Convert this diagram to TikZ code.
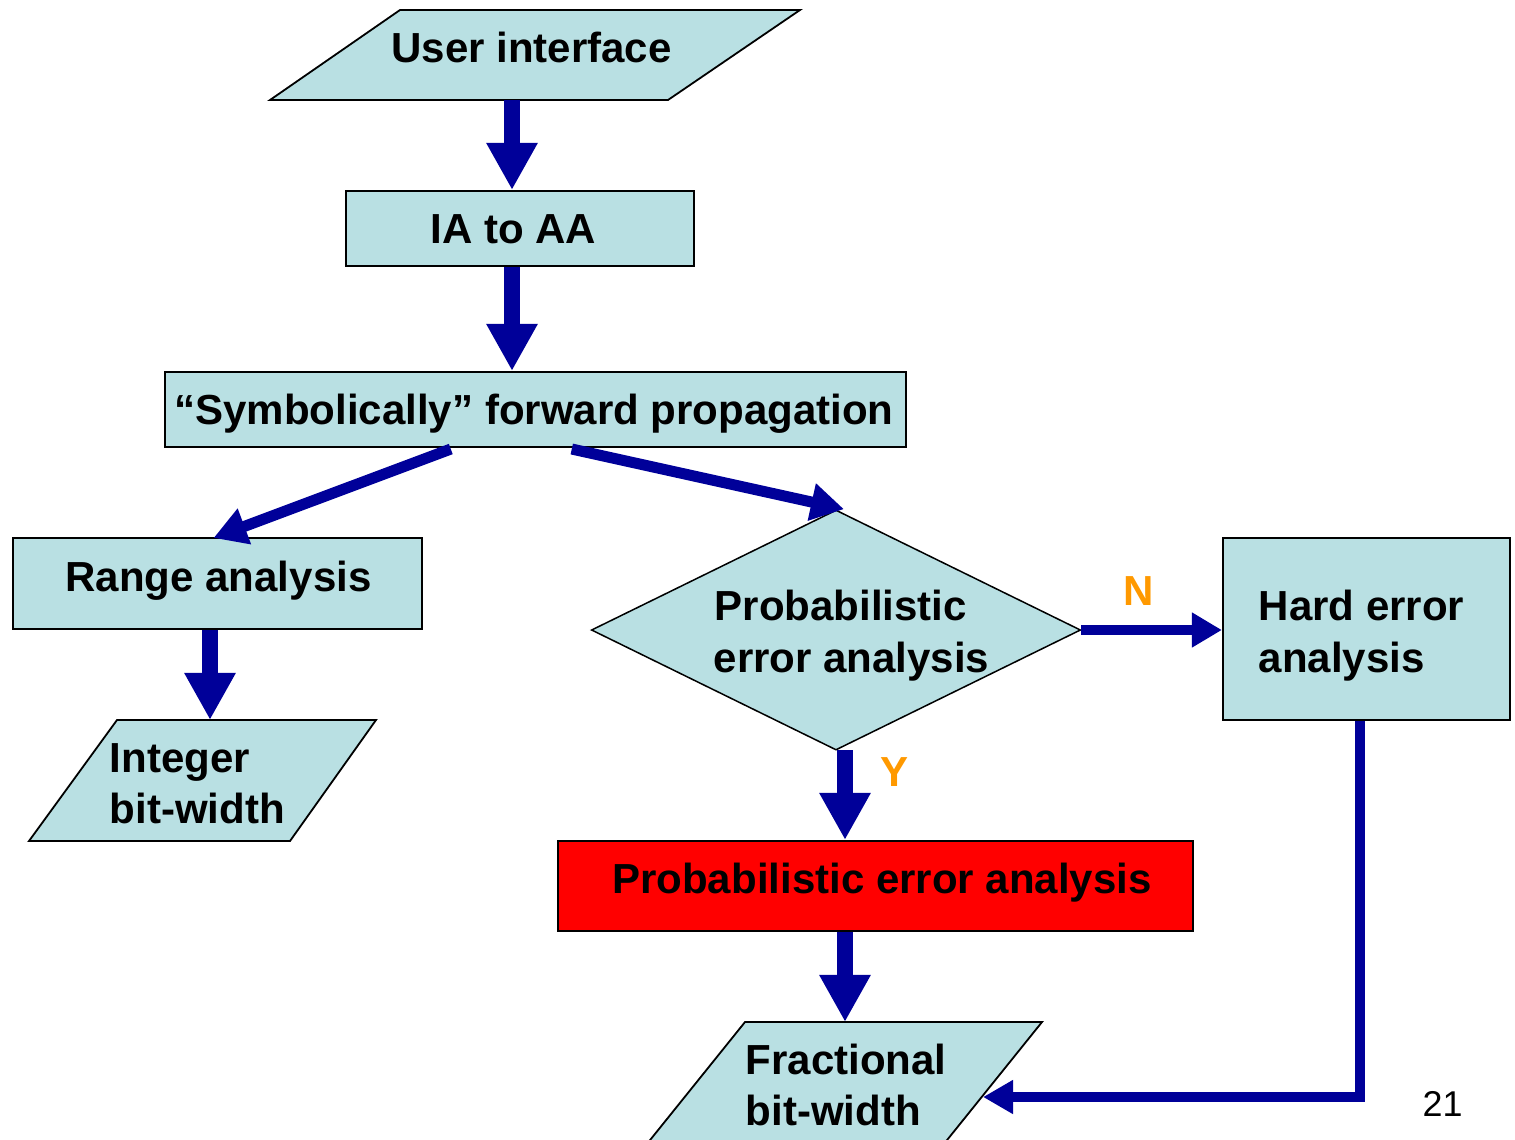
\documentclass[tikz,border=0pt]{standalone}
\usepackage{fontspec}
\setmainfont{Liberation Sans}
\usetikzlibrary{arrows.meta,shapes.geometric,calc}
\definecolor{boxfill}{RGB}{185,224,227}
\definecolor{arrowblue}{RGB}{0,0,153}
\definecolor{labelorange}{RGB}{255,153,0}
\begin{document}
\begin{tikzpicture}[x=0.01cm,y=-0.01cm,
  box/.style={shape=rectangle,draw=black,line width=0.02cm,fill=boxfill,inner sep=0pt},
  para/.style={draw=black,line width=0.018cm,fill=boxfill,line join=miter},
  txt/.style={font=\fontsize{11.95pt}{14pt}\selectfont\bfseries,inner sep=0pt},
  bigarrow/.style={draw=arrowblue,line width=0.16cm,-{Triangle[length=0.47cm,width=0.48cm]},arrowblue},
  thinarrow/.style={draw=arrowblue,line width=0.11cm,-{Triangle[length=0.33cm,width=0.36cm]},arrowblue},
  midarrow/.style={draw=arrowblue,line width=0.10cm,-{Triangle[length=0.30cm,width=0.33cm]},arrowblue},
  returnline/.style={draw=arrowblue,line width=0.10cm,line join=miter,-{Triangle[length=0.30cm,width=0.32cm]},arrowblue}]
\useasboundingbox (0,0) rectangle (1515,1139);
\clip (0,0) rectangle (1515,1139);

% shapes
\draw[para] (400,10) -- (800,10) -- (668,100) -- (270,100) -- cycle;
\node[box,minimum width=3.48cm,minimum height=0.75cm] (ia) at (520,228.5) {};
\node[box,minimum width=7.41cm,minimum height=0.75cm] (sym) at (535.5,409.5) {};
\node[box,minimum width=4.09cm,minimum height=0.91cm] (range) at (217.5,583.5) {};
\draw[para] (117,720) -- (376,720) -- (290,841) -- (29,841) -- cycle;
\node[diamond,draw=black,line width=0.015cm,fill=boxfill,inner sep=0pt,minimum width=4.89cm,minimum height=2.40cm] (dec) at (836,630) {};
\node[box,minimum width=2.87cm,minimum height=1.82cm] (hard) at (1366.5,629) {};
\node[box,fill=red,minimum width=6.35cm,minimum height=0.90cm] (pea) at (875.5,886) {};
\draw[para] (745,1022) -- (1042,1022) -- (931,1160) -- (634,1160) -- cycle;

% connector coordinates
\coordinate (uib) at (512,100);
\coordinate (intt) at (210,720);
\coordinate (yx) at (845,750);
\coordinate (fract) at (845,1022);
\coordinate (corner) at (1360,1097);
\coordinate (frace) at (983,1097);

% connectors
\draw[bigarrow] (uib) -- (uib |- ia.north);
\draw[bigarrow] (uib |- ia.south) -- (uib |- sym.north);
\draw[thinarrow] ($(sym.south west)+(287,1)$) -- ($(range.north)+(-4,1)$);
\draw[thinarrow] ($(sym.south west)+(408,1)$) -- ($(dec.north)+(8,0)$);
\draw[bigarrow] (intt |- range.south) -- (intt);
\draw[midarrow] (dec.east) -- (dec.east -| hard.west);
\draw[bigarrow] (yx) -- (yx |- pea.north);
\draw[bigarrow] (fract |- pea.south) -- (fract);
\draw[returnline] (hard.south -| corner) -- (corner) -- (frace);

% texts
\node[txt,anchor=base] (tui) at (531.5,62) {User interface};
\node[txt,anchor=base] (tia) at (513.5,243) {IA to AA};
\node[txt,anchor=base] (tsym) at (534,424) {“Symbolically” forward propagation};
\node[txt,anchor=base] (trange) at (218.5,591) {Range analysis};
\node[txt,anchor=base west] (tint1) at (109,772) {Integer};
\node[txt,anchor=base west] (tint2) at (109,823) {bit-width};
\node[txt,anchor=base west] (tdec1) at (714,620) {Probabilistic};
\node[txt,anchor=base west] (tdec2) at (713,672) {error analysis};
\node[txt,anchor=base west] (thard1) at (1258,620) {Hard error};
\node[txt,anchor=base west] (thard2) at (1258,672) {analysis};
\node[txt,anchor=base west,text=labelorange] (tn) at (1123,605) {N};
\node[txt,anchor=base west,text=labelorange] (ty) at (880,786) {Y};
\node[txt,anchor=base] (tpea) at (882,893) {Probabilistic error analysis};
\node[txt,anchor=base west] (tfr1) at (745,1074) {Fractional};
\node[txt,anchor=base west] (tfr2) at (745,1125) {bit-width};
\node[font=\fontsize{10.2pt}{12pt}\selectfont,inner sep=0pt,anchor=base west] (tpage) at (1422,1116) {21};
\end{tikzpicture}
\end{document}
